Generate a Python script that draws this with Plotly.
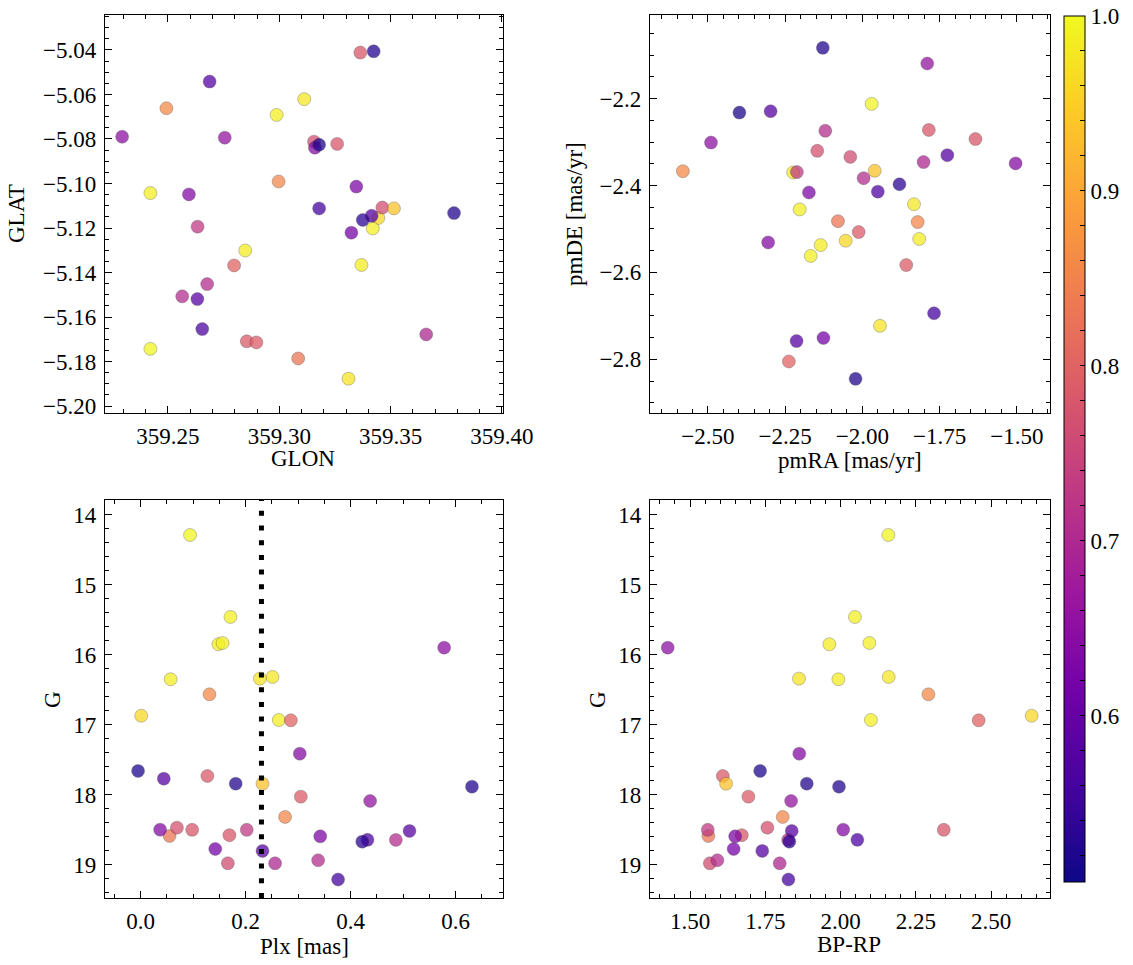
import plotly.graph_objects as go

# ---------------- data (one entry per star) ----------------
glon = [359.2421, 359.2421, 359.2847, 359.2988, 359.3112, 359.3369, 359.3311, 359.3445, 359.3420,
        359.2493, 359.2997, 359.3085, 359.2797, 359.2854, 359.2897, 359.3156, 359.3260, 359.3364, 359.3463,
        359.3515,
        359.2633, 359.2564, 359.2676, 359.3660,
        359.2294, 359.2594, 359.2755, 359.3160, 359.3346, 359.3324,
        359.2687, 359.2632, 359.2654, 359.3415, 359.3179,
        359.3179, 359.3424, 359.3785, 359.3375]
glat = [-5.1743, -5.1043, -5.1301, -5.0692, -5.0621, -5.1366, -5.1877, -5.1155, -5.1202,
        -5.0662, -5.0991, -5.1786, -5.1368, -5.1709, -5.1714, -5.0812, -5.0822, -5.0412, -5.1108,
        -5.1112,
        -5.1194, -5.1507, -5.1452, -5.1678,
        -5.0790, -5.1049, -5.0794, -5.0839, -5.1014, -5.1221,
        -5.0542, -5.1519, -5.1654, -5.1145, -5.1112,
        -5.0826, -5.0406, -5.1133, -5.1164]
pmra = [-1.970, -2.203, -2.135, -2.167, -1.833, -1.816, -1.943, -2.054, -2.224,
        -2.581, -1.821, -2.079, -2.238, -2.012, -1.858, -2.146, -1.785, -1.634, -2.039,
        -1.960,
        -2.212, -2.120, -1.996, -1.802,
        -2.490, -2.305, -1.790, -1.504, -2.173, -2.126,
        -2.297, -2.213, -1.950, -1.725, -1.768,
        -2.398, -2.022, -2.128, -1.880]
pmde = [-2.212, -2.455, -2.537, -2.562, -2.443, -2.523, -2.723, -2.527, -2.370,
        -2.367, -2.484, -2.482, -2.805, -2.507, -2.583, -2.320, -2.272, -2.293, -2.334,
        -2.366,
        -2.369, -2.274, -2.383, -2.346,
        -2.301, -2.531, -2.119, -2.349, -2.416, -2.751,
        -2.229, -2.758, -2.414, -2.330, -2.694,
        -2.232, -2.845, -2.083, -2.397]
plx = [0.094, 0.171, 0.148, 0.156, 0.251, 0.057, 0.227, 0.001, 0.263,
       0.131, 0.275, 0.055, 0.286, 0.127, 0.305, 0.069, 0.098, 0.169, 0.166,
       0.232,
       0.202, 0.486, 0.338, 0.256,
       0.578, 0.303, 0.437, 0.037, 0.342, 0.142,
       0.044, 0.512, 0.432, 0.232, 0.376,
       -0.005, 0.181, 0.631, 0.422]
gmag = [14.293, 15.464, 15.854, 15.836, 16.321, 16.354, 16.345, 16.875, 16.936,
        16.569, 18.321, 18.593, 16.940, 17.736, 18.031, 18.474, 18.505, 18.581, 18.983,
        17.846,
        18.505, 18.650, 18.940, 18.983,
        15.903, 17.417, 18.093, 18.503, 18.598, 18.779,
        17.774, 18.521, 18.648, 18.807, 19.215,
        17.664, 17.846, 17.889, 18.674]
bprp = [2.159, 2.048, 1.963, 2.096, 2.160, 1.993, 1.862, 2.635, 2.101,
        2.292, 1.808, 1.561, 2.459, 1.609, 1.694, 1.757, 2.343, 1.672, 1.566,
        1.620,
        1.559, 1.826, 1.591, 1.798,
        1.426, 1.863, 1.836, 2.009, 1.650, 1.645,
        None, 1.838, 2.056, 1.740, 1.827,
        1.733, 1.888, 1.995, 1.830]
prob = [0.995, 0.99, 0.985, 0.99, 0.98, 0.985, 0.975, 0.96, 0.99,
        0.86, 0.855, 0.83, 0.80, 0.785, 0.79, 0.77, 0.78, 0.78, 0.765,
        0.935,
        0.73, 0.71, 0.71, 0.70,
        0.65, 0.64, 0.66, 0.64, 0.63, 0.62,
        0.58, 0.58, 0.57, 0.58, 0.56,
        0.52, 0.525, 0.525, 0.535]
plx_cut = 0.23

cb_major = [0.6, 0.7, 0.8, 0.9, 1.0]

# ---------------- layout helpers ----------------
W, H = 1133, 965
FONT = "Liberation Serif"
FS = 23


def fx(px):
    return px / W


def fy(py):
    return 1 - py / H


def axis(dom, rng, dtick, minor, fmt, anchor, is_y=False):
    return dict(
        domain=dom, range=rng, dtick=dtick, tick0=0, tickformat=fmt, anchor=anchor,
        ticks="inside", ticklen=7, tickwidth=1, tickcolor="black",
        mirror="allticks", showline=True, linecolor="black", linewidth=1.3,
        showgrid=False, zeroline=False, ticklabelstandoff=3 if is_y else 2,
        automargin=False,
        minor=dict(ticks="inside", ticklen=3.5, tickwidth=0.8, tickcolor="black",
                   dtick=minor, tick0=0, showgrid=False),
        tickfont=dict(family=FONT, size=FS, color="black"),
    )


xL = [fx(105), fx(503)]
xR = [fx(650), fx(1050)]
yT = [fy(413), fy(15)]
yB = [fy(898), fy(500)]

marker = dict(color=prob, colorscale="Plasma", cmin=0.505, cmax=1.0, size=13, opacity=0.75,
              line=dict(width=0.6, color="rgba(40,40,40,0.6)"))

cb_vals = [round(0.52 + 0.02 * i, 2) for i in range(25)]
cb_text = [("%.1f" % v) if any(abs(v - m) < 1e-9 for m in cb_major) else "" for v in cb_vals]

fig = go.Figure()
fig.add_trace(go.Scatter(
    x=glon, y=glat, mode="markers", xaxis="x", yaxis="y",
    marker=dict(marker, showscale=True, colorbar=dict(
        x=fx(1064), xanchor="left", y=fy(882), yanchor="bottom", len=866 / H, lenmode="fraction",
        thickness=21, thicknessmode="pixels", xpad=0, ypad=0,
        outlinewidth=1, outlinecolor="black",
        tickmode="array", tickvals=cb_vals, ticktext=cb_text,
        ticks="inside", ticklen=5, tickwidth=1, tickcolor="black",
        tickfont=dict(family=FONT, size=FS, color="black"))),
    showlegend=False, hoverinfo="skip"))
fig.add_trace(go.Scatter(x=pmra, y=pmde, mode="markers", xaxis="x2", yaxis="y2",
                         marker=dict(marker, showscale=False), showlegend=False, hoverinfo="skip"))
fig.add_trace(go.Scatter(x=plx, y=gmag, mode="markers", xaxis="x3", yaxis="y3",
                         marker=dict(marker, showscale=False), showlegend=False, hoverinfo="skip"))
fig.add_trace(go.Scatter(x=bprp, y=gmag, mode="markers", xaxis="x4", yaxis="y4",
                         marker=dict(marker, showscale=False), showlegend=False, hoverinfo="skip"))

fig.add_shape(type="line", xref="x3", yref="y3 domain", x0=plx_cut, x1=plx_cut, y0=0, y1=1,
              line=dict(color="black", width=5, dash="5px,9.7px"))

fig.update_layout(
    width=W, height=H, margin=dict(l=0, r=0, t=0, b=0, pad=0, autoexpand=False),
    paper_bgcolor="white", plot_bgcolor="white",
    font=dict(family=FONT, size=FS, color="black"),
    xaxis=axis(xL, [359.2217, 359.4005], 0.05, 0.01, ".2f", "y"),
    yaxis=axis(yT, [-5.2031, -5.0243], 0.02, 0.005, ".2f", "x", True),
    xaxis2=axis(xR, [-2.6874, -1.3927], 0.25, 0.05, ".2f", "y2"),
    yaxis2=axis(yT, [-2.9236, -2.0074], 0.2, 0.05, ".1f", "x2", True),
    xaxis3=axis(xL, [-0.068, 0.6901], 0.2, 0.05, ".1f", "y3"),
    yaxis3=axis(yB, [19.479, 13.793], 1, 0.2, "d", "x3", True),
    xaxis4=axis(xR, [1.3671, 2.696], 0.25, 0.05, ".2f", "y4"),
    yaxis4=axis(yB, [19.479, 13.793], 1, 0.2, "d", "x4", True),
)

labels = [
    ("GLON", 303, 458, 0), ("GLAT", 17, 214, -90),
    ("pmRA [mas/yr]", 850, 461, 0), ("pmDE [mas/yr]", 575, 214, -90),
    ("Plx [mas]", 304, 946, 0), ("G", 52, 700, -90),
    ("BP-RP", 849, 944, 0), ("G", 597, 700, -90),
]
for txt, x, y, ang in labels:
    fig.add_annotation(text=txt, x=fx(x), y=fy(y), xref="paper", yref="paper",
                       xanchor="center", yanchor="middle", showarrow=False, textangle=ang,
                       font=dict(family=FONT, size=FS, color="black"))

fig.write_html("out.html", config={"displayModeBar": False},
               post_script="document.body.style.margin='0px';document.body.style.overflow='hidden';")
